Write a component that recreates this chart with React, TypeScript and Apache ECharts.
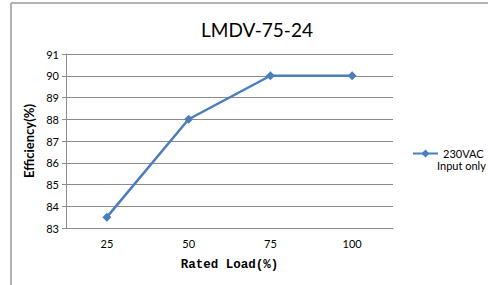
import React, { useEffect, useRef } from "react";
import * as echarts from "echarts";

const titleText = "LMDV-75-24";
const categories = ["25", "50", "75", "100"];
const seriesName = "230VAC";
const legendSecondLine = "Input only";
const efficiency = [83.5, 88, 90, 90];
const yMin = 83;
const yMax = 91;
const yInterval = 1;
const xAxisName = "Rated Load(%)";
const yAxisName = "Efficiency(%)";

export default function App() {
  const ref = useRef<HTMLDivElement>(null);
  useEffect(() => {
    if (!ref.current) return;
    const chart = echarts.init(ref.current, undefined, { renderer: "svg" });
    const font = "Lato, 'Open Sans', 'Liberation Sans', sans-serif";
    chart.setOption({
      animation: false,
      backgroundColor: "#ffffff",
      title: {
        text: titleText,
        left: 252,
        top: 15,
        textAlign: "center",
        textStyle: { fontFamily: font, fontSize: 19, fontWeight: "normal", color: "#000" },
      },
      graphic: [
        { type: "line", shape: { x1: 11, y1: 3, x2: 11, y2: 285 }, style: { stroke: "#9a9a9a", lineWidth: 1.5 } },
        { type: "line", shape: { x1: 11, y1: 3, x2: 488, y2: 3 }, style: { stroke: "#9a9a9a", lineWidth: 1.5 } },
        {
          type: "text",
          left: 437,
          top: 160,
          style: { text: legendSecondLine, fontFamily: font, fontSize: 11, fill: "#000" },
        },
      ],
      legend: {
        left: 407,
        top: 143,
        itemWidth: 25,
        itemHeight: 10,
        data: [seriesName],
        textStyle: { fontFamily: font, fontSize: 11, color: "#000" },
      },
      grid: { left: 66, top: 54, right: 95, bottom: 57 },
      xAxis: {
        type: "category",
        data: categories,
        boundaryGap: true,
        name: xAxisName,
        nameLocation: "middle",
        nameGap: 30,
        nameTextStyle: { fontFamily: "'Liberation Mono', 'DejaVu Sans Mono', monospace", fontWeight: "bold", fontSize: 12.5, color: "#000" },
        axisLine: { lineStyle: { color: "#8c8c8c", width: 1 } },
        axisTick: { show: false },
        axisLabel: { fontFamily: font, fontSize: 11, color: "#000", margin: 10 },
        splitLine: { show: false },
      },
      yAxis: {
        type: "value",
        min: yMin,
        max: yMax,
        interval: yInterval,
        name: yAxisName,
        nameLocation: "middle",
        nameGap: 26,
        nameTextStyle: { fontFamily: font, fontWeight: "bold", fontSize: 13, color: "#000" },
        axisLine: { show: true, lineStyle: { color: "#8c8c8c", width: 1 } },
        axisTick: { show: true, length: 4, lineStyle: { color: "#8c8c8c" } },
        axisLabel: { fontFamily: font, fontSize: 11, color: "#000", margin: 7 },
        splitLine: { show: true, lineStyle: { color: "#8c8c8c", width: 1 } },
      },
      series: [
        {
          name: seriesName,
          type: "line",
          data: efficiency,
          symbol: "diamond",
          symbolSize: 9,
          color: "#4a7ebb",
          lineStyle: { color: "#4a7ebb", width: 2.5 },
          itemStyle: { color: "#4a7ebb" },
        },
      ],
    });
    return () => chart.dispose();
  }, []);
  return (
    <div
      ref={ref}
      style={{ position: "fixed", left: 0, top: 0, width: 488, height: 285 }}
    />
  );
}
